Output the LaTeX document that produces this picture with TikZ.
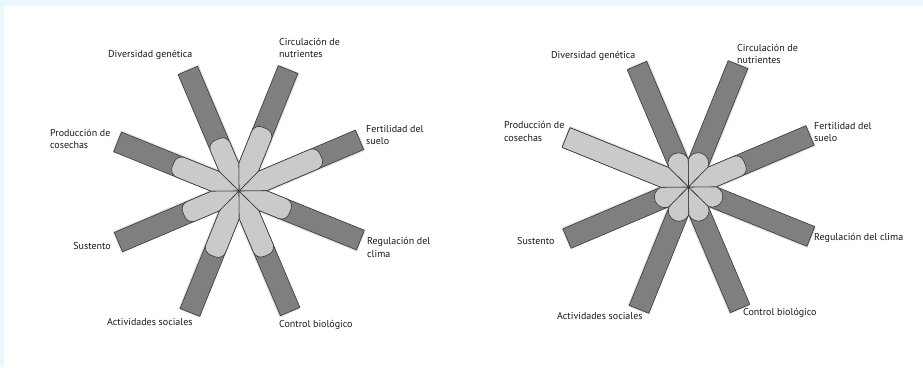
\documentclass[tikz,border=0pt]{standalone}
\usepackage{fontspec}
\setmainfont{PT Sans}
\usepackage{tikz}
\usetikzlibrary{calc}
\definecolor{frameblue}{RGB}{234,247,251}
\definecolor{bardark}{RGB}{127,127,127}
\definecolor{barlight}{RGB}{202,202,202}
\definecolor{barline}{RGB}{55,55,55}

\tikzset{
  dark bar/.style={fill=bardark, draw=barline, line width=0.6pt, line join=round},
  light bar/.style={fill=barlight, draw=barline, line width=0.6pt, line join=round},
  bar shadow/.style={fill=black, opacity=0.12},
  lbl/.style={inner sep=0pt, font=\fontsize{10}{12.5}\selectfont, align=left, text=black!90}
}

% #1 centre, #2 angle, #3 length
\newcommand{\darkbar}[3]{%
  \begin{scope}[shift={#1}, rotate=#2]
    \fill[bar shadow, xshift=1.2pt, yshift=-1.5pt] (0,0) -- (\wedgeX,-\halfW) -- (#3,-\halfW) -- (#3,\halfW) -- (\wedgeX,\halfW) -- cycle;
    \draw[dark bar] (0,0) -- (\wedgeX,-\halfW) -- (#3,-\halfW) -- (#3,\halfW) -- (\wedgeX,\halfW) -- cycle;
  \end{scope}}
% #1 centre, #2 angle, #3 length, #4 cap radius
\newcommand{\lightbar}[4]{%
  \begin{scope}[shift={#1}, rotate=#2]
    \draw[light bar] (0,0) -- (\wedgeX,-\halfW) -- ({#3-#4},-\halfW) arc[start angle=-90, end angle=0, radius=#4]
      -- (#3,{\halfW-#4}) arc[start angle=0, end angle=90, radius=#4] -- (\wedgeX,\halfW) -- cycle;
  \end{scope}}

\begin{document}
\begin{tikzpicture}[x=1pt, y=1pt]
\pgfmathsetmacro{\halfW}{10.6}
\pgfmathsetmacro{\wedgeX}{\halfW/tan(22.5)}
\pgfmathsetmacro{\petal}{\wedgeX+\halfW}

\useasboundingbox (0,0) rectangle (923,367);
\fill[frameblue] (0,0) rectangle (923,367);
\fill[white] (4,0) rectangle (923,361);

\coordinate (cL) at (239,176);
\coordinate (cR) at (688.5,180);

% left star
\foreach \ang in {23,68,...,338}
  \darkbar{(cL)}{\ang}{131};
\foreach \ang/\len in {23/89, 68/68, 113/56, 158/71, 203/60, 248/70, 293/70, 338/55}
  \lightbar{(cL)}{\ang}{\len}{8};

% right star
\foreach \ang in {23,68,...,338}
  \darkbar{(cR)}{\ang}{132};
\foreach \ang in {68,113,203,248,293,338}
  \lightbar{(cR)}{\ang}{\petal}{\halfW};
\lightbar{(cR)}{23}{61}{8}
\lightbar{(cR)}{158}{132}{0.8}

% labels, left
\node[lbl, anchor=west] (divL) at (108,312) {Diversidad genética};
\node[lbl, anchor=west] (circL) at (279,319) {Circulación de\\nutrientes};
\node[lbl, anchor=west] (fertL) at (366,232) {Fertilidad del\\suelo};
\node[lbl, anchor=west] (regL) at (367,119.5) {Regulación del\\clima};
\node[lbl, anchor=west] (ctrlL) at (279,42) {Control biológico};
\node[lbl, anchor=west] (actL) at (107,45) {Actividades sociales};
\node[lbl, anchor=east] (sustL) at (111,121) {Sustento};
\node[lbl, anchor=west] (prodL) at (50,228) {Producción de\\cosechas};

% labels, right
\node[lbl, anchor=west] (divR) at (551,311) {Diversidad genética};
\node[lbl, anchor=west] (circR) at (737,313) {Circulación de\\nutrientes};
\node[lbl, anchor=west] (fertR) at (814,235) {Fertilidad del\\suelo};
\node[lbl, anchor=west] (regR) at (814,129) {Regulación del clima};
\node[lbl, anchor=west] (ctrlR) at (743,54) {Control biológico};
\node[lbl, anchor=west] (actR) at (557,51) {Actividades sociales};
\node[lbl, anchor=west] (sustR) at (517,126) {Sustento};
\node[lbl, anchor=west] (prodR) at (504,235.5) {Producción de\\cosechas};
\end{tikzpicture}
\end{document}
